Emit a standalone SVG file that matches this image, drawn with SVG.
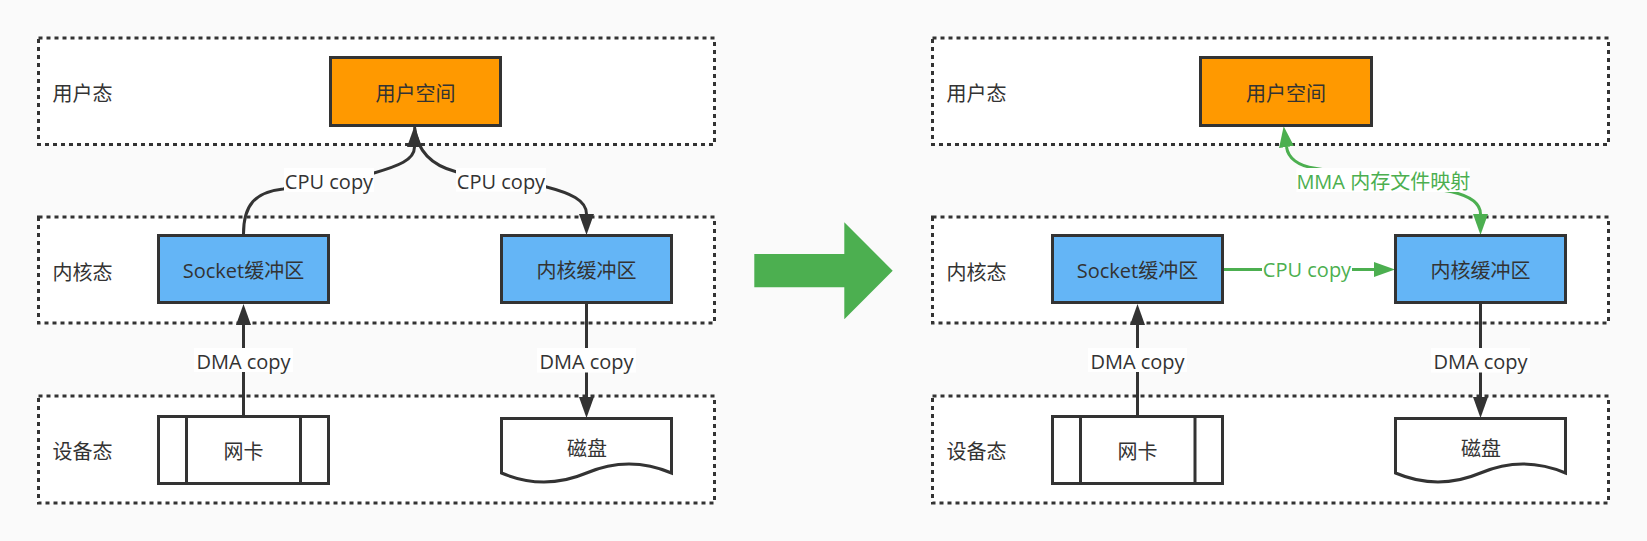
<svg xmlns="http://www.w3.org/2000/svg" width="1647" height="541" viewBox="0 0 1647 541">
<style>
.zone{fill:#fff;stroke:#333;stroke-width:3;stroke-dasharray:4 4}
.node{stroke:#333;stroke-width:3}
.orange{fill:#FF9900}
.blue{fill:#64B5F6}
.white{fill:#fff}
.t{font-family:'Open Sans','Noto Sans CJK SC',sans-serif;font-size:20px;fill:#333}
.c{text-anchor:middle}
.gt{fill:#4CAF50}
.edge{fill:none;stroke:#333;stroke-width:3}
.gedge{fill:none;stroke:#4CAF50;stroke-width:3}
.lb{fill:#fff}
</style>
<defs>
<marker id="ah" viewBox="0 0 21 15" markerWidth="21" markerHeight="15" refX="0" refY="7.5" orient="auto-start-reverse" markerUnits="userSpaceOnUse"><path d="M0,0 L21,7.5 L0,15 Z" fill="#333"/></marker>
<marker id="gah" viewBox="0 0 21 15" markerWidth="21" markerHeight="15" refX="0" refY="7.5" orient="auto-start-reverse" markerUnits="userSpaceOnUse"><path d="M0,0 L21,7.5 L0,15 Z" fill="#4CAF50"/></marker>
</defs>
<rect width="1647" height="541" fill="#FAFAFA"/>

<g id="zones-left">
<rect class="zone" x="38.5" y="38" width="676" height="106.5"/>
<rect class="zone" x="38.5" y="217" width="676" height="106"/>
<rect class="zone" x="38.5" y="396" width="676" height="107"/>
<text class="t" x="52.5" y="101">用户态</text>
<text class="t" x="52.5" y="280">内核态</text>
<text class="t" x="52.5" y="459">设备态</text>
</g>
<g id="zones-right">
<rect class="zone" x="932.5" y="38" width="676" height="106.5"/>
<rect class="zone" x="932.5" y="217" width="676" height="106"/>
<rect class="zone" x="932.5" y="396" width="676" height="107"/>
<text class="t" x="946.5" y="101">用户态</text>
<text class="t" x="946.5" y="280">内核态</text>
<text class="t" x="946.5" y="459">设备态</text>
</g>

<g id="connectors">
<path class="edge" d="M243.5,415 L243.5,325" marker-end="url(#ah)"/>
<path class="edge" d="M586.5,304 L586.5,397" marker-end="url(#ah)"/>
<path class="edge" d="M243.5,234 C243.5,205 255,192 283,189 L374,173 C398,166 414.5,160 414.5,147" marker-end="url(#ah)"/>
<path class="edge" d="M414.5,127 C417,150 430,165 456,171.7 L545.7,186.7 C570,193 586.5,200 586.5,214" marker-end="url(#ah)"/>
<path class="edge" d="M1137.5,415 L1137.5,325" marker-end="url(#ah)"/>
<path class="edge" d="M1480.5,304 L1480.5,397" marker-end="url(#ah)"/>
<path class="gedge" d="M1224,269.5 L1374,269.5" marker-end="url(#gah)"/>
<path class="gedge" d="M1286.5,147 C1288,158 1298,166 1315,168.3 L1451.7,191.7 C1470,196 1480.5,203 1480.5,214" marker-start="url(#gah)" marker-end="url(#gah)"/>
<rect class="lb" x="284" y="168" width="90" height="24"/>
<text class="t c" x="329" y="189">CPU copy</text>
<rect class="lb" x="456" y="168" width="90" height="23.5"/>
<text class="t c" x="501" y="188.5">CPU copy</text>
<rect class="lb" x="194" y="348" width="99" height="24"/>
<text class="t c" x="243.5" y="368.5">DMA copy</text>
<rect class="lb" x="537" y="348" width="99" height="24.5"/>
<text class="t c" x="586.5" y="369">DMA copy</text>
<rect class="lb" x="1088" y="348" width="99" height="24"/>
<text class="t c" x="1137.5" y="368.5">DMA copy</text>
<rect class="lb" x="1431" y="348" width="99" height="24.5"/>
<text class="t c" x="1480.5" y="369">DMA copy</text>
<rect class="lb" x="1262" y="258" width="90" height="24"/>
<text class="t c gt" x="1307" y="277">CPU copy</text>
<rect class="lb" x="1296.5" y="168" width="173.5" height="24"/>
<text class="t c gt" x="1383.3" y="188.5">MMA 内存文件映射</text>
</g>

<g id="transition-arrow">
<polygon class="gt" points="754.3,254 844.3,254 844.3,222.3 892.7,270.7 844.3,319.3 844.3,287.3 754.3,287.3"/>
</g>

<g id="user-space-left">
<rect class="node orange" x="330.5" y="57.5" width="170" height="68"/>
<text class="t c" x="415.5" y="101">用户空间</text>
</g>
<g id="socket-buffer-left">
<rect class="node blue" x="158.5" y="235.5" width="170" height="67"/>
<text class="t c" x="243.5" y="278">Socket缓冲区</text>
</g>
<g id="kernel-buffer-left">
<rect class="node blue" x="501.5" y="235.5" width="170" height="67"/>
<text class="t c" x="586.5" y="278">内核缓冲区</text>
</g>
<g id="nic-left">
<rect class="node white" x="158.5" y="416.5" width="170" height="67"/>
<line class="node" x1="186.5" y1="416.5" x2="186.5" y2="483.5"/>
<line class="node" x1="300.5" y1="416.5" x2="300.5" y2="483.5"/>
<text class="t c" x="243.5" y="459">网卡</text>
</g>
<g id="disk-left">
<path class="node white" d="M501.5,418.5 L671.5,418.5 L671.5,473 Q629,455 586.5,473 Q544,491 501.5,473 Z"/>
<text class="t c" x="587" y="456">磁盘</text>
</g>

<g id="user-space-right">
<rect class="node orange" x="1200.5" y="57.5" width="171" height="68"/>
<text class="t c" x="1286" y="101">用户空间</text>
</g>
<g id="socket-buffer-right">
<rect class="node blue" x="1052.5" y="235.5" width="170" height="67"/>
<text class="t c" x="1137.5" y="278">Socket缓冲区</text>
</g>
<g id="kernel-buffer-right">
<rect class="node blue" x="1395.5" y="235.5" width="170" height="67"/>
<text class="t c" x="1480.5" y="278">内核缓冲区</text>
</g>
<g id="nic-right">
<rect class="node white" x="1052.5" y="416.5" width="170" height="67"/>
<line class="node" x1="1080.5" y1="416.5" x2="1080.5" y2="483.5"/>
<line class="node" x1="1195" y1="416.5" x2="1195" y2="483.5"/>
<text class="t c" x="1137.5" y="459">网卡</text>
</g>
<g id="disk-right">
<path class="node white" d="M1395.5,418.5 L1565.5,418.5 L1565.5,473 Q1523,455 1480.5,473 Q1438,491 1395.5,473 Z"/>
<text class="t c" x="1481" y="456">磁盘</text>
</g>
</svg>
